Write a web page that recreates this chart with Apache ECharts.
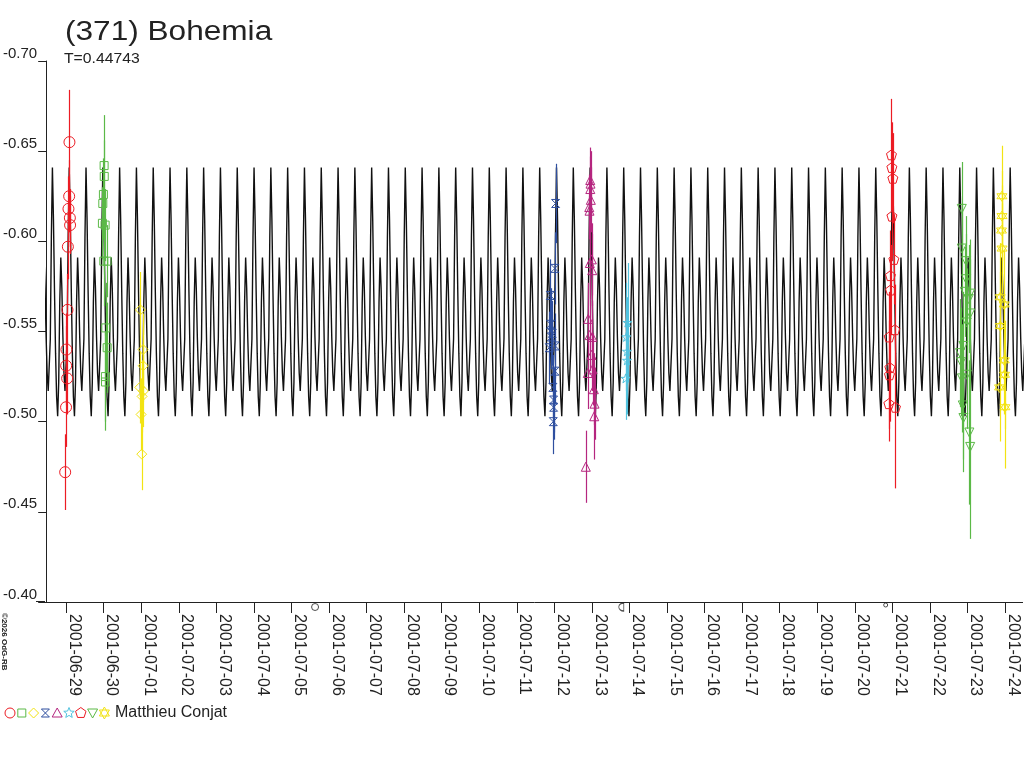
<!DOCTYPE html>
<html>
<head>
<meta charset="utf-8">
<script src="https://cdn.jsdelivr.net/npm/echarts@6/dist/echarts.min.js"></script>
<style>html,body{margin:0;padding:0;background:#fff;}#chart{width:1024px;height:768px;}</style>
</head>
<body>
<div id="chart"></div>
<script>
// ---------------- DATA ----------------
const titleText = '(371) Bohemia';
const periodText = 'T=0.44743';
const observerName = 'Matthieu Conjat';
const copyrightText = '\u00A92026 OdG-RB';

const X_MIN = '2001-06-28 11:14';
const X_MAX = '2001-07-24 11:14';
const Y_MIN = -0.70;
const Y_MAX = -0.40;
const Y_STEP = 0.05;

// model lightcurve: period (days), epoch of main maximum, one cycle
const PERIOD_DAYS = 0.44743;
const MODEL_EPOCH = '2001-07-05 08:17';
const modelPhase = [0, 0.0625, 0.125, 0.1875, 0.25, 0.3125, 0.375, 0.4375, 0.5, 0.5625, 0.625, 0.6875, 0.75, 0.8125, 0.875, 0.9375];
const modelMag   = [-0.641, -0.612, -0.572, -0.538, -0.514, -0.503, -0.522, -0.566, -0.591, -0.574, -0.547, -0.527, -0.517, -0.516, -0.546, -0.602];

// observations: [time, magnitude, error]
const obs1 = [
  ['2001-06-29 02:06', -0.655, 0.029], ['2001-06-29 01:55', -0.625, 0.020], ['2001-06-29 01:28', -0.618, 0.018],
  ['2001-06-29 02:22', -0.613, 0.016], ['2001-06-29 02:30', -0.609, 0.016], ['2001-06-29 01:05', -0.597, 0.018],
  ['2001-06-29 00:50', -0.562, 0.020], ['2001-06-29 00:11', -0.540, 0.020], ['2001-06-29 00:00', -0.531, 0.022],
  ['2001-06-29 00:38', -0.524, 0.020], ['2001-06-28 23:55', -0.508, 0.022], ['2001-06-28 23:22', -0.472, 0.021]
];
const obs2 = [
  ['2001-06-30 00:15', -0.642, 0.028], ['2001-06-30 00:20', -0.636, 0.020], ['2001-06-29 23:48', -0.626, 0.020],
  ['2001-06-29 23:25', -0.621, 0.020], ['2001-06-29 23:10', -0.610, 0.020], ['2001-06-30 00:54', -0.609, 0.020],
  ['2001-06-30 00:04', -0.589, 0.025], ['2001-06-30 02:10', -0.589, 0.020], ['2001-06-30 01:20', -0.552, 0.025],
  ['2001-06-30 02:12', -0.541, 0.025], ['2001-06-30 01:05', -0.525, 0.025], ['2001-06-30 01:08', -0.522, 0.027]
];
const obs3 = [
  ['2001-06-30 23:26', -0.562, 0.021], ['2001-07-01 01:09', -0.540, 0.020], ['2001-07-01 01:12', -0.531, 0.020],
  ['2001-06-30 23:03', -0.519, 0.020], ['2001-07-01 01:20', -0.517, 0.020], ['2001-07-01 00:31', -0.514, 0.020],
  ['2001-06-30 23:52', -0.504, 0.020], ['2001-07-01 00:19', -0.482, 0.020]
];
const obs4 = [
  ['2001-07-12 00:46', -0.621, 0.022], ['2001-07-12 00:19', -0.585, 0.020], ['2001-07-11 21:23', -0.570, 0.020],
  ['2001-07-11 21:34', -0.554, 0.020], ['2001-07-11 22:40', -0.549, 0.018], ['2001-07-11 22:01', -0.547, 0.018],
  ['2001-07-11 20:45', -0.541, 0.020], ['2001-07-12 00:35', -0.542, 0.018], ['2001-07-12 00:22', -0.528, 0.018],
  ['2001-07-11 23:03', -0.519, 0.018], ['2001-07-11 23:29', -0.512, 0.018], ['2001-07-11 23:31', -0.508, 0.018],
  ['2001-07-11 23:18', -0.500, 0.018]
];
const obs5 = [
  ['2001-07-12 22:55', -0.634, 0.018], ['2001-07-12 23:06', -0.632, 0.018], ['2001-07-12 22:57', -0.629, 0.018],
  ['2001-07-12 23:18', -0.623, 0.018], ['2001-07-12 22:17', -0.619, 0.018], ['2001-07-12 22:28', -0.617, 0.018],
  ['2001-07-12 23:56', -0.590, 0.020], ['2001-07-12 22:40', -0.588, 0.020], ['2001-07-13 00:11', -0.584, 0.020],
  ['2001-07-12 21:38', -0.557, 0.020], ['2001-07-12 22:30', -0.548, 0.020], ['2001-07-13 00:14', -0.547, 0.020],
  ['2001-07-12 23:45', -0.537, 0.020], ['2001-07-13 00:23', -0.529, 0.020], ['2001-07-12 21:23', -0.527, 0.020],
  ['2001-07-13 01:13', -0.518, 0.020], ['2001-07-13 01:40', -0.510, 0.020], ['2001-07-13 01:28', -0.503, 0.024],
  ['2001-07-12 20:05', -0.475, 0.020]
];
const obs6 = [
  ['2001-07-13 22:47', -0.555, 0.033], ['2001-07-13 21:57', -0.547, 0.030], ['2001-07-13 22:24', -0.539, 0.030],
  ['2001-07-13 22:26', -0.534, 0.030], ['2001-07-13 21:31', -0.524, 0.023]
];
const obs7 = [
  ['2001-07-20 23:26', -0.648, 0.031], ['2001-07-20 23:41', -0.641, 0.025], ['2001-07-21 00:19', -0.635, 0.025],
  ['2001-07-20 23:43', -0.614, 0.025], ['2001-07-21 00:57', -0.590, 0.025], ['2001-07-20 22:47', -0.581, 0.025],
  ['2001-07-20 22:50', -0.573, 0.025], ['2001-07-21 01:36', -0.551, 0.025], ['2001-07-20 21:57', -0.547, 0.025],
  ['2001-07-20 22:24', -0.530, 0.030], ['2001-07-20 22:09', -0.526, 0.030], ['2001-07-20 21:46', -0.510, 0.021],
  ['2001-07-21 01:59', -0.508, 0.045]
];
const obs8 = [
  ['2001-07-22 20:22', -0.618, 0.026], ['2001-07-22 20:25', -0.596, 0.025], ['2001-07-22 23:06', -0.589, 0.025],
  ['2001-07-22 23:08', -0.579, 0.025], ['2001-07-22 22:17', -0.572, 0.025], ['2001-07-23 01:40', -0.571, 0.030],
  ['2001-07-23 00:50', -0.568, 0.030], ['2001-07-23 01:42', -0.560, 0.030], ['2001-07-22 23:33', -0.555, 0.030],
  ['2001-07-22 21:23', -0.542, 0.030], ['2001-07-22 19:17', -0.538, 0.030], ['2001-07-22 19:55', -0.533, 0.030],
  ['2001-07-22 23:35', -0.526, 0.030], ['2001-07-22 20:28', -0.524, 0.030], ['2001-07-22 21:00', -0.509, 0.030],
  ['2001-07-22 21:25', -0.502, 0.030], ['2001-07-23 01:13', -0.494, 0.040], ['2001-07-23 01:44', -0.486, 0.051]
];
const obs9 = [
  ['2001-07-23 22:01', -0.625, 0.028], ['2001-07-23 22:04', -0.614, 0.025], ['2001-07-23 21:46', -0.606, 0.025],
  ['2001-07-23 22:06', -0.596, 0.025], ['2001-07-23 20:56', -0.569, 0.030], ['2001-07-23 23:29', -0.565, 0.030],
  ['2001-07-23 20:58', -0.553, 0.030], ['2001-07-23 23:31', -0.534, 0.030], ['2001-07-23 23:41', -0.526, 0.030],
  ['2001-07-23 20:29', -0.519, 0.030], ['2001-07-23 23:56', -0.508, 0.034]
];

// moon phases shown under the axis
const moonTimes = ['2001-07-05 15:04', '2001-07-13 18:45', '2001-07-20 19:44'];
const moonKinds = ['full', 'last', 'new'];

// ---------------- STYLE ----------------
const FONT = '"Liberation Sans", Arial, Helvetica, sans-serif';
const INK = '#222';
const RED = '#ec1c24', GREEN = '#5bb947', YELLOW = '#f2e313', BLUE = '#2f4f9f', MAGENTA = '#b5267f', CYAN = '#52c3df';

const SYM = {
  circle: 'circle',
  square: 'rect',
  diamond: 'diamond',
  xbox: 'path://M0,0 L100,0 L0,100 L100,100 Z',
  triangle: 'triangle',
  star: 'path://M50,0 L61,35 L98,35 L68,57 L79,91 L50,70 L21,91 L32,57 L2,35 L39,35 Z',
  pentagon: 'path://M50,0 L100,38 L81,100 L19,100 L0,38 Z',
  downtri: 'path://M0,0 L100,0 L50,90 Z',
  hexagram: 'path://M50,0 L93,75 L7,75 Z M50,100 L7,25 L93,25 Z'
};
const sets = [
  { data: obs1, color: RED, sym: 'circle', size: 11 },
  { data: obs2, color: GREEN, sym: 'square', size: 8 },
  { data: obs3, color: YELLOW, sym: 'diamond', size: 10 },
  { data: obs4, color: BLUE, sym: 'xbox', size: 8 },
  { data: obs5, color: MAGENTA, sym: 'triangle', size: 9 },
  { data: obs6, color: CYAN, sym: 'star', size: 9 },
  { data: obs7, color: RED, sym: 'pentagon', size: 10 },
  { data: obs8, color: GREEN, sym: 'downtri', size: 9 },
  { data: obs9, color: YELLOW, sym: 'hexagram', size: 10 }
];

function parseT(s) {
  const [d, tm] = s.split(' ');
  const [Y, M, D] = d.split('-').map(Number);
  const [h, mi] = tm.split(':').map(Number);
  return new Date(Y, M - 1, D, h, mi).getTime();
}
function pad(n) { return (n < 10 ? '0' : '') + n; }

// model curve built from the one-cycle shape and the period
const tMin = parseT(X_MIN), tMax = parseT(X_MAX);
const P = PERIOD_DAYS * 86400000;
const e0 = parseT(MODEL_EPOCH);
const curve = [];
const k0 = Math.floor((tMin - e0) / P) - 1, k1 = Math.ceil((tMax - e0) / P) + 1;
for (let k = k0; k <= k1; k++) {
  for (let i = 0; i < modelPhase.length; i++) {
    curve.push([e0 + (k + modelPhase[i]) * P, modelMag[i]]);
  }
}

const series = [{
  type: 'line', data: curve, showSymbol: false, symbol: 'none', silent: true, z: 2,
  lineStyle: { color: '#111', width: 1.4 }, animation: false
}];

sets.forEach((s, idx) => {
  const pts = s.data.map(r => [parseT(r[0]), r[1], r[2]]);
  series.push({
    type: 'custom', z: 3, silent: true, animation: false,
    data: pts, encode: { x: 0, y: 1 },
    renderItem: function (params, api) {
      const x = api.value(0), y = api.value(1), e = api.value(2);
      const p1 = api.coord([x, y - e]);
      const p2 = api.coord([x, y + e]);
      const xx = Math.round(p1[0]) + 0.5;
      return { type: 'line', shape: { x1: xx, y1: p1[1], x2: xx, y2: p2[1] },
        style: { stroke: s.color, lineWidth: 1.2 } };
    }
  });
  series.push({
    type: 'scatter', z: 4, silent: true, animation: false,
    data: pts.map(p => [p[0], p[1]]),
    symbol: SYM[s.sym], symbolSize: s.size,
    itemStyle: { color: 'none', borderColor: s.color, borderWidth: 1, opacity: 1 }
  });
});

// moon phase marks
series.push({
  type: 'scatter', z: 5, silent: true, animation: false, clip: false,
  data: moonTimes.map((t, i) => ({
    value: [parseT(t), Y_MAX],
    symbol: moonKinds[i] === 'full' ? 'circle' : (moonKinds[i] === 'last' ? 'path://M100,0 A100,100 0 0 0 100,200 Z' : 'circle'),
    symbolSize: moonKinds[i] === 'full' ? 7 : (moonKinds[i] === 'last' ? [5, 8] : 4),
    symbolOffset: moonKinds[i] === 'new' ? [0, 3] : [0, 5]
  })),
  itemStyle: { color: 'none', borderColor: INK, borderWidth: 1 }
});

// legend drawn as graphics
function legendShape(kind, cx, cy, color) {
  const st = { fill: 'none', stroke: color, lineWidth: 1 };
  const r = 5;
  switch (kind) {
    case 'circle': return { type: 'circle', shape: { cx, cy, r }, style: st };
    case 'square': return { type: 'rect', shape: { x: cx - 4, y: cy - 4, width: 8, height: 8 }, style: st };
    case 'diamond': return { type: 'polygon', shape: { points: [[cx, cy - r], [cx + r, cy], [cx, cy + r], [cx - r, cy]] }, style: st };
    case 'xbox': return { type: 'polygon', shape: { points: [[cx - 4, cy - 4], [cx + 4, cy - 4], [cx - 4, cy + 4], [cx + 4, cy + 4]] }, style: st };
    case 'triangle': return { type: 'polygon', shape: { points: [[cx, cy - r], [cx + r, cy + 4], [cx - r, cy + 4]] }, style: st };
    case 'star': {
      const pts = [];
      for (let i = 0; i < 10; i++) {
        const a = -Math.PI / 2 + i * Math.PI / 5, rr = i % 2 ? 2.4 : 5.5;
        pts.push([cx + rr * Math.cos(a), cy + rr * Math.sin(a)]);
      }
      return { type: 'polygon', shape: { points: pts }, style: st };
    }
    case 'pentagon': {
      const pts = [];
      for (let i = 0; i < 5; i++) {
        const a = -Math.PI / 2 + i * 2 * Math.PI / 5;
        pts.push([cx + 5.5 * Math.cos(a), cy + 5.5 * Math.sin(a)]);
      }
      return { type: 'polygon', shape: { points: pts }, style: st };
    }
    case 'downtri': return { type: 'polygon', shape: { points: [[cx - r, cy - 4], [cx + r, cy - 4], [cx, cy + r]] }, style: st };
    case 'hexagram': return { type: 'group', children: [
      { type: 'polygon', shape: { points: [[cx, cy - 6], [cx + 5, cy + 3], [cx - 5, cy + 3]] }, style: st },
      { type: 'polygon', shape: { points: [[cx, cy + 6], [cx - 5, cy - 3], [cx + 5, cy - 3]] }, style: st }
    ] };
  }
}
const legendEls = sets.map((s, i) => legendShape(s.sym, 10 + i * 11.8, 713, s.color));
legendEls.push({ type: 'text', x: 115, y: 713, style: { text: observerName, font: '16px ' + FONT, fill: INK, verticalAlign: 'middle', align: 'left' } });

const chart = echarts.init(document.getElementById('chart'), null, { renderer: 'canvas' });
chart.setOption({
  animation: false,
  backgroundColor: '#fff',
  grid: { left: 45, right: 1.4, top: 61, bottom: 166, containLabel: false },
  xAxis: {
    type: 'time', min: tMin, max: tMax,
    minInterval: 86400000, maxInterval: 86400000,
    axisLine: { show: true, lineStyle: { color: INK, width: 1 } },
    axisTick: { show: true, length: 11, lineStyle: { color: INK } },
    splitLine: { show: false },
    axisLabel: {
      rotate: -90, margin: 12, fontSize: 16, fontFamily: FONT, color: INK,
      align: 'left', verticalAlign: 'bottom', showMinLabel: false, showMaxLabel: false, hideOverlap: false,
      formatter: function (v) { const d = new Date(v); return d.getFullYear() + '-' + pad(d.getMonth() + 1) + '-' + pad(d.getDate()); }
    }
  },
  yAxis: {
    type: 'value', inverse: true, min: Y_MIN, max: Y_MAX, interval: Y_STEP,
    axisLine: { show: true, lineStyle: { color: INK, width: 1 } },
    axisTick: { show: true, length: 8, lineStyle: { color: INK } },
    splitLine: { show: false },
    axisLabel: {
      margin: 9, fontSize: 15, fontFamily: FONT, color: INK, verticalAlign: 'bottom',
      formatter: function (v) { return v.toFixed(2); }
    }
  },
  graphic: [
    { type: 'text', x: 65, y: 32.5, scaleX: 1.17, scaleY: 1,
      style: { text: titleText, font: '27px ' + FONT, fill: INK, align: 'left', verticalAlign: 'middle' } },
    { type: 'text', x: 64, y: 59, scaleX: 1.05, scaleY: 1,
      style: { text: periodText, font: '15px ' + FONT, fill: INK, align: 'left', verticalAlign: 'middle' } },
    { type: 'line', shape: { x1: 36, y1: 601.5, x2: 45, y2: 601.5 }, style: { stroke: INK, lineWidth: 1 } },
    { type: 'text', x: 8, y: 613, rotation: -Math.PI / 2,
      style: { text: copyrightText, font: 'bold 8px ' + FONT, fill: INK, align: 'left', verticalAlign: 'top' } },
    { type: 'group', children: legendEls }
  ],
  series: series
});
</script>
</body>
</html>
